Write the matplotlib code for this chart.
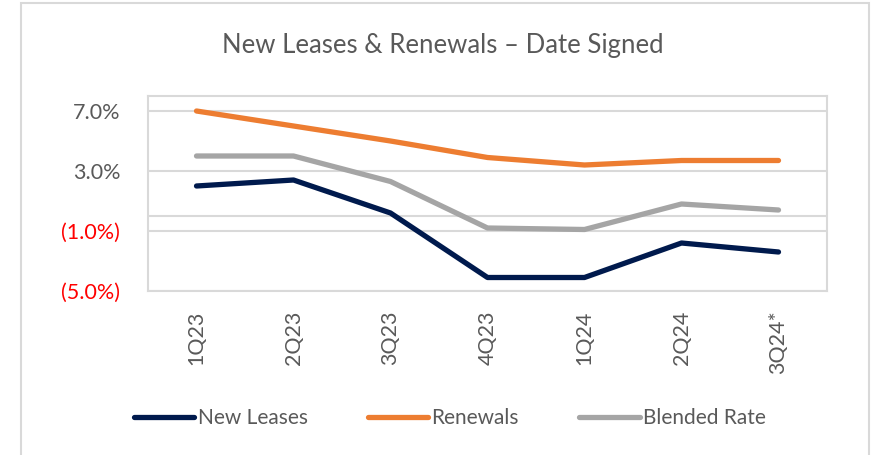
import matplotlib.pyplot as plt
from matplotlib.patches import Rectangle

quarters = ["1Q23", "2Q23", "3Q23", "4Q23", "1Q24", "2Q24", "3Q24*"]
new_leases = [2.0, 2.4, 0.2, -4.1, -4.1, -1.8, -2.4]
renewals = [7.0, 6.0, 5.0, 3.9, 3.4, 3.7, 3.7]
blended = [4.0, 4.0, 2.3, -0.8, -0.9, 0.8, 0.4]
yticks = [-5, -1, 3, 7]
ytick_labels = ["(5.0%)", "(1.0%)", "3.0%", "7.0%"]

plt.rcParams['font.family'] = ['Lato', 'DejaVu Sans']
W, H = 871, 455
fig = plt.figure(figsize=(W / 100, H / 100), dpi=100)
fig.patches.append(Rectangle((21 / W, -0.1), (869 - 21) / W, 1.1 - 3 / H,
                             transform=fig.transFigure, fill=False,
                             edgecolor="#d9d9d9", linewidth=1.5))

ax = fig.add_axes([148 / W, 1 - 291 / H, (827 - 148) / W, (291 - 96) / H])
x = list(range(len(quarters)))
ax.plot(x, new_leases, color="#001a4d", lw=3.8, solid_capstyle="round", label="New Leases", zorder=3)
ax.plot(x, renewals, color="#ed7d31", lw=3.8, solid_capstyle="round", label="Renewals", zorder=3)
ax.plot(x, blended, color="#a5a5a5", lw=3.8, solid_capstyle="round", label="Blended Rate", zorder=3)

ax.set_xlim(-0.5, 6.5)
ax.set_ylim(-5, 8)
ax.set_yticks(yticks)
ax.set_yticklabels(ytick_labels)
for lab, v in zip(ax.get_yticklabels(), yticks):
    lab.set_color("red" if v < 0 else "#595959")
ax.grid(axis="y", color="#d9d9d9", lw=1.5)
ax.axhline(0, color="#d9d9d9", lw=1.5)
ax.set_xticks(x)
ax.set_xticklabels(quarters, rotation=90, color="#595959")
ax.tick_params(axis="both", length=0, labelsize=15.5)
ax.tick_params(axis="y", pad=20)
ax.tick_params(axis="x", pad=14)
for s in ax.spines.values():
    s.set_color("#d9d9d9")
    s.set_linewidth(1.5)

fig.text(443 / W, 1 - 45 / H, "New Leases & Renewals \u2013 Date Signed",
         ha="center", va="center", fontsize=18.5, color="#595959")

fig.legend(loc="center", bbox_to_anchor=(450 / W, 1 - 418 / H), ncol=3, frameon=False,
           fontsize=15, handlelength=2.9, handletextpad=0.15, columnspacing=2.9,
           labelcolor="#595959")

fig.savefig("out.png", dpi=100)
